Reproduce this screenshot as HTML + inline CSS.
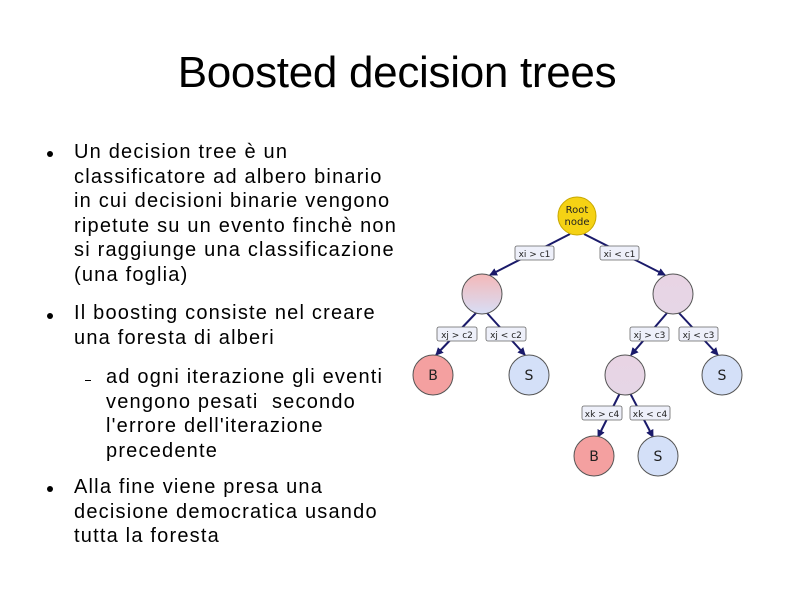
<!DOCTYPE html>
<html><head><meta charset="utf-8"><style>
body{margin:0;background:#fff;}
#w{position:relative;width:794px;height:595px;overflow:hidden;font-family:"Liberation Sans",sans-serif;color:#000;}
.t{position:absolute;left:0;width:794px;top:49px;text-align:center;font-size:44px;line-height:48px;letter-spacing:-0.3px;}
.l{position:absolute;font-size:20px;line-height:24.5px;white-space:nowrap;letter-spacing:1.2px;}
.b{position:absolute;width:6px;height:6px;border-radius:50%;background:#000;}
.d{position:absolute;width:6px;height:1px;background:#000;}
</style></head><body><div id="w">
<div class="t">Boosted decision trees</div>
<div class="b" style="left:47px;top:151px"></div>
<div class="l" style="left:74px;top:140px">Un decision tree è un<br>classificatore ad albero binario<br>in cui decisioni binarie vengono<br>ripetute su un evento finchè non<br>si raggiunge una classificazione<br>(una foglia)</div>
<div class="b" style="left:47px;top:313px"></div>
<div class="l" style="left:74px;top:301px">Il boosting consiste nel creare<br>una foresta di alberi</div>
<div class="d" style="left:85px;top:380px"></div>
<div class="l" style="left:106px;top:365px">ad ogni iterazione gli eventi<br>vengono pesati&nbsp; secondo<br>l'errore dell'iterazione<br>precedente</div>
<div class="b" style="left:47px;top:486px"></div>
<div class="l" style="left:74px;top:475px">Alla fine viene presa una<br>decisione democratica usando<br>tutta la foresta</div>
<svg style="position:absolute;left:0;top:0" width="794" height="595">
<defs>
<marker id="a" markerWidth="8" markerHeight="8" refX="7" refY="4" orient="auto" markerUnits="userSpaceOnUse"><path d="M0,0L8,4L0,8z" fill="#1a1a6a"/></marker>
<linearGradient id="g1" x1="0" y1="0" x2="0" y2="1"><stop offset="0" stop-color="#f4b8b8"/><stop offset="1" stop-color="#d8def6"/></linearGradient>
<linearGradient id="g2" x1="0" y1="0" x2="0" y2="1"><stop offset="0" stop-color="#e8d4e4"/><stop offset="1" stop-color="#e6d6e6"/></linearGradient>
</defs>
<g stroke="#1a1a6a" stroke-width="2" fill="none">
<line x1="570" y1="234" x2="490" y2="275" marker-end="url(#a)"/>
<line x1="584" y1="234" x2="665" y2="275" marker-end="url(#a)"/>
<line x1="476" y1="313" x2="436" y2="355" marker-end="url(#a)"/>
<line x1="487" y1="313" x2="525" y2="355" marker-end="url(#a)"/>
<line x1="667" y1="313" x2="631" y2="355" marker-end="url(#a)"/>
<line x1="679" y1="313" x2="718" y2="355" marker-end="url(#a)"/>
<line x1="620" y1="393" x2="598" y2="437" marker-end="url(#a)"/>
<line x1="630" y1="393" x2="653" y2="437" marker-end="url(#a)"/>
</g>
<g stroke="#555" stroke-width="1">
<circle cx="577" cy="216" r="19" fill="#f5d214" stroke="#c8a800"/>
<circle cx="482" cy="294" r="20" fill="url(#g1)"/>
<circle cx="673" cy="294" r="20" fill="url(#g2)"/>
<circle cx="433" cy="375" r="20" fill="#f4a0a0"/>
<circle cx="529" cy="375" r="20" fill="#d4e0f8"/>
<circle cx="625" cy="375" r="20" fill="url(#g2)"/>
<circle cx="722" cy="375" r="20" fill="#d4e0f8"/>
<circle cx="594" cy="456" r="20" fill="#f4a0a0"/>
<circle cx="658" cy="456" r="20" fill="#d4e0f8"/>
</g>
<g fill="#eef0fa" stroke="#666" stroke-width="0.8">
<rect x="515" y="246" width="39" height="14" rx="2"/>
<rect x="600" y="246" width="39" height="14" rx="2"/>
<rect x="437" y="327" width="40" height="14" rx="2"/>
<rect x="486" y="327" width="40" height="14" rx="2"/>
<rect x="630" y="327" width="39" height="14" rx="2"/>
<rect x="679" y="327" width="39" height="14" rx="2"/>
<rect x="582" y="406" width="40" height="14" rx="2"/>
<rect x="630" y="406" width="40" height="14" rx="2"/>
</g>
<g font-family="DejaVu Sans,sans-serif" font-size="9" text-anchor="middle" fill="#222">
<text x="534.5" y="257">xi &gt; c1</text>
<text x="619.5" y="257">xi &lt; c1</text>
<text x="457" y="338">xj &gt; c2</text>
<text x="506" y="338">xj &lt; c2</text>
<text x="649.5" y="338">xj &gt; c3</text>
<text x="698.5" y="338">xj &lt; c3</text>
<text x="602" y="417">xk &gt; c4</text>
<text x="650" y="417">xk &lt; c4</text>
<text x="577" y="213" font-size="10">Root</text>
<text x="577" y="225" font-size="10">node</text>
<g font-size="14"><text x="433" y="380">B</text><text x="529" y="380">S</text><text x="722" y="380">S</text><text x="594" y="461">B</text><text x="658" y="461">S</text></g>
</g>
</svg>
</div></body></html>
